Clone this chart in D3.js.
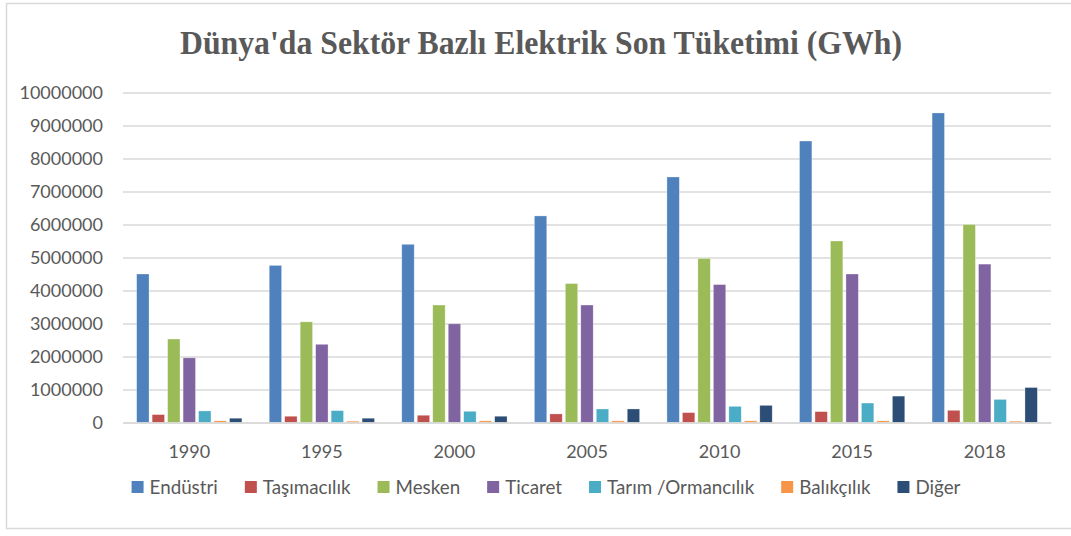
<!DOCTYPE html>
<html>
<head>
<meta charset="utf-8">
<script src="https://cdn.jsdelivr.net/npm/d3@7"></script>
<style>
    body { margin: 0; background: #fff; }
    svg text { font-family: Lato, "Open Sans", sans-serif; }
</style>
</head>
<body>
<div id="chart"></div>
<script>
// data (GWh)
const years = ["1990", "1995", "2000", "2005", "2010", "2015", "2018"]
const sectors = ["Endüstri", "Taşımacılık", "Mesken", "Ticaret", "Tarım /Ormancılık", "Balıkçılık", "Diğer"]
const endustri = [4500000, 4760000, 5400000, 6260000, 7440000, 8530000, 9380000]
const tasimacilik = [240000, 190000, 220000, 260000, 300000, 330000, 370000]
const mesken = [2530000, 3050000, 3560000, 4210000, 4970000, 5500000, 6000000]
const ticaret = [1960000, 2370000, 2990000, 3560000, 4180000, 4500000, 4800000]
const tarim = [350000, 360000, 340000, 410000, 490000, 590000, 700000]
const balikcilik = [50000, 40000, 50000, 50000, 50000, 50000, 40000]
const diger = [130000, 130000, 190000, 410000, 520000, 800000, 1060000]
const yTicks = [0, 1000000, 2000000, 3000000, 4000000, 5000000, 6000000, 7000000, 8000000, 9000000, 10000000]

const colors = ["#4F81BD", "#C0504D", "#9BBB59", "#8064A2", "#4BACC6", "#F79646", "#2C4D75"]
const seriesValues = [endustri, tasimacilik, mesken, ticaret, tarim, balikcilik, diger]

const W = 1071, H = 536
const plot = { left: 123, right: 1051, top: 92.5, bottom: 422.5 }

const svg = d3.select("#chart")
    .append("svg")
    .attr("width", W)
    .attr("height", H)

// outer chart frame
svg.append("rect")
    .attr("x", 6.5).attr("y", 3.5)
    .attr("width", W + 10).attr("height", 525)
    .attr("fill", "#fff")
    .attr("stroke", "#d9d9d9")
    .attr("stroke-width", 1.5)

svg.append("text")
    .attr("x", 180)
    .attr("y", 54)
    .attr("textLength", 722)
    .attr("lengthAdjust", "spacingAndGlyphs")
    .style("font-family", "'Liberation Serif', 'Times New Roman', serif")
    .style("font-weight", "bold")
    .style("font-size", "33px")
    .attr("fill", "#595959")
    .text("Dünya'da Sektör Bazlı Elektrik Son Tüketimi (GWh)")

const y = d3.scaleLinear()
    .domain([0, 10000000])
    .range([plot.bottom, plot.top])

const x0 = d3.scaleBand()
    .domain(years)
    .range([plot.left, plot.right])
    .paddingInner(0.206)
    .paddingOuter(0.103)

const x1 = d3.scaleBand()
    .domain(sectors)
    .range([0, x0.bandwidth()])
    .paddingInner(0.2)

// gridlines + y labels
const yAxis = svg.append("g")
    .attr("transform", `translate(${plot.left},0)`)
    .call(d3.axisLeft(y)
        .tickValues(yTicks)
        .tickSize(-(plot.right - plot.left))
        .tickPadding(20)
        .tickFormat(d3.format("d")))

yAxis.select(".domain").remove()
yAxis.selectAll(".tick line")
    .attr("stroke", "#d9d9d9")
    .attr("stroke-width", 1.5)
yAxis.selectAll(".tick text")
    .attr("fill", "#595959")
    .style("font-size", "18px")

// bars
const groups = svg.append("g")
    .selectAll("g")
    .data(years)
    .join("g")
    .attr("transform", d => `translate(${x0(d)},0)`)

groups.selectAll("rect")
    .data((yr, i) => sectors.map((s, k) => ({ sector: s, k, value: seriesValues[k][i] })))
    .join("rect")
    .attr("x", d => x1(d.sector))
    .attr("width", x1.bandwidth())
    .attr("y", d => y(d.value))
    .attr("height", d => y(0) - y(d.value))
    .attr("fill", d => colors[d.k])
    .attr("stroke", "#ffffff")
    .attr("stroke-opacity", 0.5)
    .attr("stroke-width", 0.6)

// baseline + x labels
const xAxis = svg.append("g")
    .attr("transform", `translate(0,${plot.bottom})`)
    .call(d3.axisBottom(x0).tickSize(0).tickPadding(23))

xAxis.select(".domain")
    .attr("stroke", "#d9d9d9")
    .attr("stroke-width", 1.5)
xAxis.selectAll(".tick text")
    .attr("fill", "#595959")
    .style("font-size", "18px")

// legend, centred under the chart
const legend = svg.append("g").attr("transform", "translate(0,487)")
const items = legend.selectAll("g")
    .data(sectors)
    .join("g")

items.append("rect")
    .attr("y", -6)
    .attr("width", 12)
    .attr("height", 12)
    .attr("fill", (d, i) => colors[i])

items.append("text")
    .attr("x", 18)
    .attr("dy", "0.35em")
    .attr("fill", "#595959")
    .style("font-size", "18.8px")
    .text(d => d)

let cursor = 0
const offsets = []
items.each(function () {
    offsets.push(cursor)
    cursor += 18 + this.querySelector("text").getComputedTextLength() + 27
})
const startX = 546 - (cursor - 27) / 2
items.attr("transform", (d, i) => `translate(${startX + offsets[i]},0)`)
</script>
</body>
</html>
